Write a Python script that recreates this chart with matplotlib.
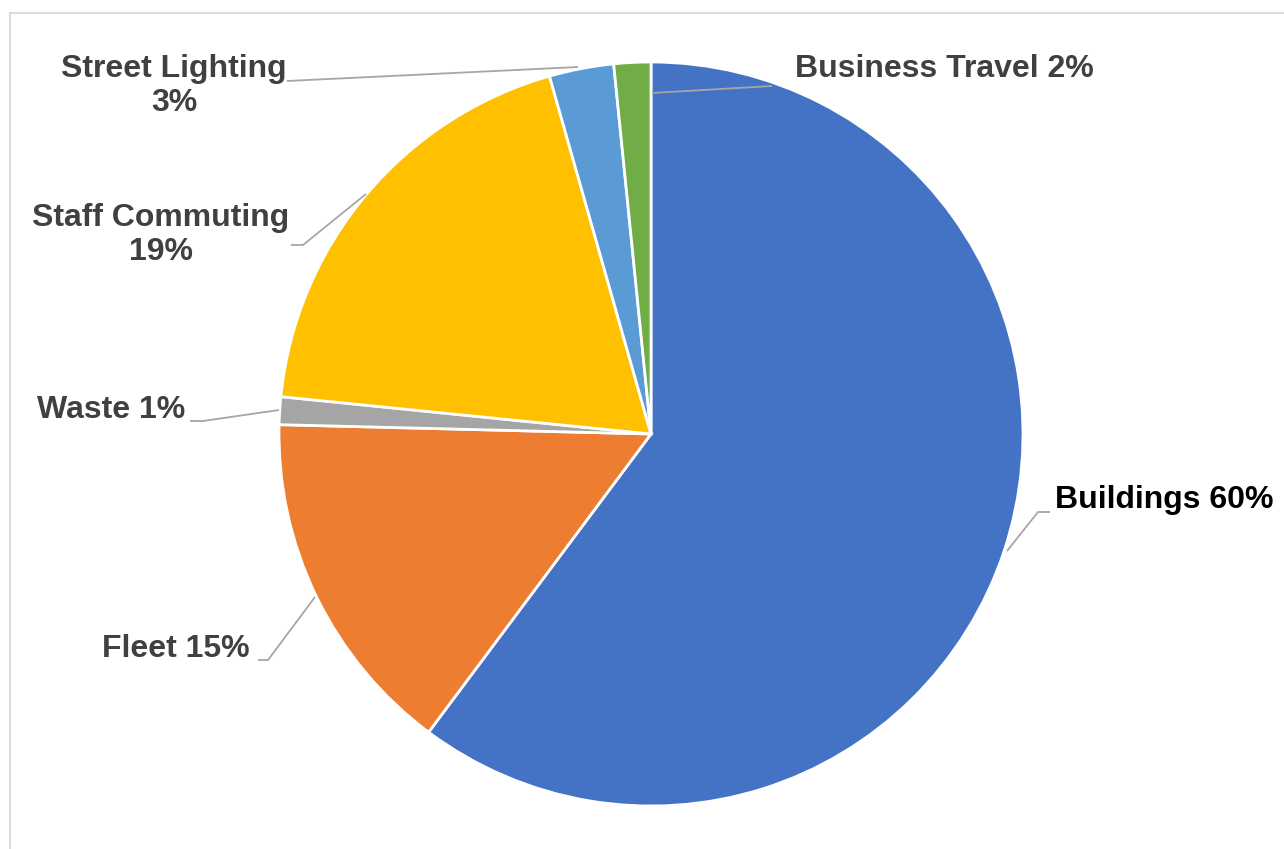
import matplotlib
matplotlib.use("Agg")
import matplotlib.pyplot as plt
from matplotlib.lines import Line2D

# slices, clockwise from 12 o'clock
categories = ["Buildings", "Fleet", "Waste", "Staff Commuting", "Street Lighting", "Business Travel"]
shares = [60.2, 15.2, 1.2, 19.0, 2.8, 1.6]
colors = ["#4472C4", "#ED7D31", "#A5A5A5", "#FFC000", "#5B9BD5", "#70AD47"]
label_sep = [" ", " ", " ", "\n", "\n", " "]

W, H = 1284, 849

def py(y):
	# pixel row (top down) -> data y (bottom up)
	return H - y

fig = plt.figure(figsize=(W / 100, H / 100), dpi=100)
ax = fig.add_axes([0, 0, 1, 1])

ax.pie(shares, colors=colors, startangle=90, counterclock=False,
	center=(651, py(434)), radius=372,
	wedgeprops=dict(edgecolor="white", linewidth=2.0))
ax.set_xlim(0, W)
ax.set_ylim(0, H)
ax.set_aspect("equal")
ax.axis("off")

# label anchor (pixels), alignment, leader polyline (pixels)
label_pos = [
	(1055, 500, "left", [(1007, 551), (1038, 512), (1050, 512)]),
	(250, 649, "right", [(315, 597), (268, 660), (258, 660)]),
	(185, 410, "right", [(279, 410), (203, 421), (190, 421)]),
	(161, 235, "center", [(366, 194), (303, 245), (291, 245)]),
	(174, 86, "center", [(578, 67), (287, 81)]),
	(795, 69, "left", [(652, 93), (772, 86)]),
]

for i, name in enumerate(categories):
	x, y, ha, pts = label_pos[i]
	txt = f"{name}{label_sep[i]}{round(shares[i])}%"
	col = "black" if i == 0 else "#404040"
	ax.text(x, py(y), txt, ha=ha, va="center", fontsize=23, fontweight="bold",
		family="Liberation Sans", color=col, linespacing=1.15)
	ax.plot([p[0] for p in pts], [py(p[1]) for p in pts], color="#A6A6A6", lw=1.3,
		solid_capstyle="butt")

# chart area border
fig.add_artist(Line2D([9.5 / W, 9.5 / W], [0, 1 - 12.5 / H], transform=fig.transFigure,
	color="#D9D9D9", lw=1.3))
fig.add_artist(Line2D([9.5 / W, 1], [1 - 12.5 / H, 1 - 12.5 / H], transform=fig.transFigure,
	color="#D9D9D9", lw=1.3))

fig.savefig("out.png", dpi=100, facecolor="white")
